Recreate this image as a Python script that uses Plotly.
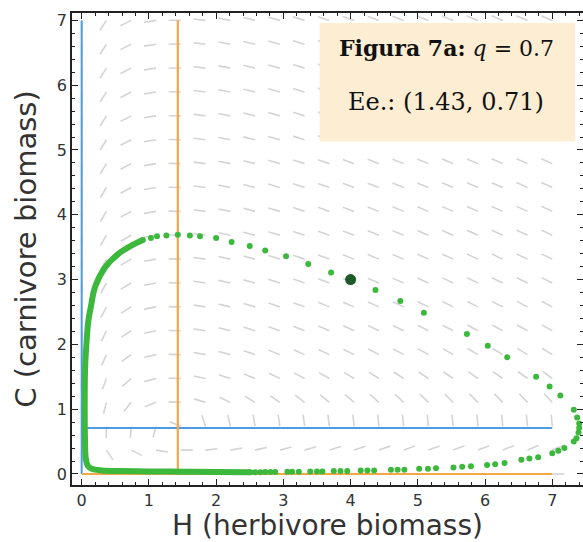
import numpy as np
import plotly.graph_objects as go

# ---- values ----
q_value = 0.7
eq_H = 1.43          # equilibrium herbivore biomass (orange nullcline)
eq_C = 0.71          # equilibrium carnivore biomass (blue nullcline)
start_H = [4.0]
start_C = [3.0]

# dense (continuous-looking) part of the trajectory
dense_H = [0.91, 0.75, 0.55, 0.35, 0.20, 0.14, 0.10, 0.07, 0.05, 0.045, 0.05, 0.06, 0.09,
           0.15, 0.30, 0.60, 1.00, 1.50, 2.00, 2.51]
dense_C = [3.61, 3.53, 3.40, 3.19, 2.89, 2.60, 2.37, 2.00, 1.60, 1.00, 0.50, 0.25, 0.13,
           0.08, 0.055, 0.045, 0.04, 0.035, 0.03, 0.026]

# individually visible dots of the trajectory
dots_H = [0.91, 1.03, 1.12, 1.26, 1.43, 1.61, 1.76, 2.00, 2.23, 2.50, 2.73, 3.04, 3.37, 3.71,
          4.37, 4.74, 5.09, 5.73, 6.04, 6.33, 6.76, 6.96, 7.12, 7.32, 7.37, 7.40, 7.40, 7.39,
          7.36, 7.32, 7.18, 7.09, 7.00, 6.79, 6.66, 6.54, 6.29, 6.15, 6.03, 5.79, 5.66, 5.53,
          5.27, 5.15, 5.02, 4.80, 4.70, 4.60, 4.35, 4.25, 4.15, 3.95, 3.85, 3.75, 3.58, 3.50,
          3.40, 3.23, 3.13, 3.06, 2.88, 2.81, 2.73, 2.66, 2.58, 2.51]
dots_C = [3.61, 3.64, 3.67, 3.68, 3.69, 3.68, 3.67, 3.64, 3.58, 3.52, 3.45, 3.36, 3.24, 3.11,
          2.84, 2.67, 2.49, 2.16, 1.98, 1.80, 1.50, 1.35, 1.21, 0.99, 0.87, 0.78, 0.71, 0.64,
          0.55, 0.50, 0.40, 0.36, 0.32, 0.26, 0.24, 0.22, 0.17, 0.15, 0.14, 0.12, 0.11, 0.10,
          0.09, 0.08, 0.08, 0.065, 0.065, 0.065, 0.055, 0.055, 0.055, 0.045, 0.045, 0.045,
          0.04, 0.04, 0.04, 0.035, 0.035, 0.035, 0.03, 0.03, 0.03, 0.026, 0.026, 0.026]

x_ticks = [0, 1, 2, 3, 4, 5, 6, 7]
y_ticks = [0, 1, 2, 3, 4, 5, 6, 7]
nullcline_end = 7.0

# ---- direction field of the predator-prey model with that equilibrium ----
grid = np.linspace(0, nullcline_end, 20)
arrow_len = 0.18
ax_, ay_ = [], []
for h in grid:
    for c in grid:
        dh = h * (1 - c / eq_C)
        dc = c * (q_value * h - 1)
        n = np.hypot(dh, dc)
        if n == 0:
            continue
        ax_ += [h, h + arrow_len * dh / n, None]
        ay_ += [c, c + arrow_len * dc / n, None]

fig = go.Figure()
fig.add_trace(go.Scatter(x=ax_, y=ay_, mode="lines",
                         line=dict(color="rgb(212,212,212)", width=1.6),
                         hoverinfo="skip", showlegend=False))

blue = "#4f9be3"
orange = "#f3a845"
fig.add_trace(go.Scatter(x=[0, 0], y=[0, nullcline_end], mode="lines",
                         line=dict(color=blue, width=2), showlegend=False))
fig.add_trace(go.Scatter(x=[0, nullcline_end], y=[eq_C, eq_C], mode="lines",
                         line=dict(color=blue, width=2), showlegend=False))
fig.add_trace(go.Scatter(x=[eq_H, eq_H], y=[0, nullcline_end], mode="lines",
                         line=dict(color=orange, width=2.2), showlegend=False))
fig.add_trace(go.Scatter(x=[0, nullcline_end], y=[0, 0], mode="lines",
                         line=dict(color=orange, width=2.2), showlegend=False))

green = "#3cb83c"
fig.add_trace(go.Scatter(x=dense_H, y=dense_C, mode="lines",
                         line=dict(color=green, width=6, shape="spline"), showlegend=False))
fig.add_trace(go.Scatter(x=dots_H, y=dots_C, mode="markers",
                         marker=dict(color=green, size=6), showlegend=False))
fig.add_trace(go.Scatter(x=start_H, y=start_C, mode="markers",
                         marker=dict(color="#1d5a27", size=11), showlegend=False))

# annotation box
fig.add_shape(type="rect", xref="x", yref="y", x0=3.54, x1=7.34, y0=5.13, y1=6.96,
              fillcolor="rgb(252,237,211)", line=dict(width=0), layer="above")
fig.add_annotation(x=5.42, y=6.58, xref="x", yref="y", showarrow=False,
                   text="<b>Figura 7a:</b> <i>q</i> = 0.7",
                   font=dict(family="DejaVu Serif", size=22, color="#111"))
fig.add_annotation(x=5.42, y=5.74, xref="x", yref="y", showarrow=False,
                   text="Ee.: (1.43, 0.71)",
                   font=dict(family="DejaVu Serif", size=24, color="#111"))

axis_common = dict(showline=True, linecolor="#222", linewidth=1.5, mirror="ticks",
                   ticks="inside", ticklen=6, tickwidth=1.2, tickcolor="#222",
                   minor=dict(dtick=0.2, ticks="inside", ticklen=3, tickcolor="#222"),
                   showgrid=False, zeroline=False, automargin=False,
                   tickfont=dict(family="DejaVu Sans", size=16, color="#333"))
fig.update_layout(
    width=583, height=542,
    margin=dict(l=72, r=0, t=13, b=57),
    plot_bgcolor="white", paper_bgcolor="white",
    xaxis=dict(range=[-0.144, 7.457], tickvals=x_ticks,
               title=dict(text="H (herbivore biomass)", standoff=9,
                          font=dict(family="DejaVu Sans", size=28, color="#333")),
               **axis_common),
    yaxis=dict(range=[-0.17, 7.114], tickvals=y_ticks,
               title=dict(text="C (carnivore biomass)", standoff=12,
                          font=dict(family="DejaVu Sans", size=29, color="#333")),
               **axis_common),
)
fig.write_html("out.html", config={"displayModeBar": False},
               post_script="document.body.style.margin='0';document.body.style.padding='0';")
